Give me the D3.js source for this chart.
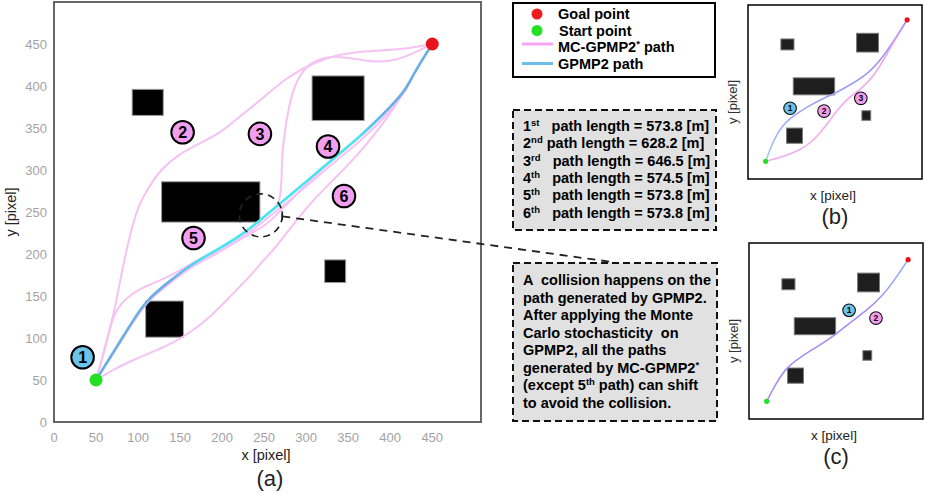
<!DOCTYPE html>
<html>
<head>
<meta charset="utf-8">
<script src="https://cdn.jsdelivr.net/npm/d3@7"></script>
<style>
  body { margin: 0; background: #fff; }
  text { font-family: Arial, "Liberation Sans", sans-serif; }
  .pre { white-space: pre; }
</style>
</head>
<body>
<svg id="fig" width="926" height="494"></svg>
<script>
(function() {
  /* Data */
  var xTicks = [0, 50, 100, 150, 200, 250, 300, 350, 400, 450];
  var yTicks = [0, 50, 100, 150, 200, 250, 300, 350, 400, 450];
  // obstacles: x, y (bottom), width, height in map pixels
  var obstacles = [[93, 365, 37, 31], [307, 359, 62, 53], [128, 238, 117, 48], [322, 166, 25, 27], [109, 101, 45, 43]];
  var startPt = [50, 50];
  var goalPt = [450, 450];
  var gpmp2Path = [[50,50],[75,90],[94,121],[110,145],[134,165],[162,187],[194,205],[221,221],[245,240],[269,260],
                   [293,280],[316,300],[340,320],[364,340],[385,360],[404,379],[420,398],[428,415],[450,450]];
  var mcPath2 = [[50,50],[60,85],[68,118],[73,138],[78,165],[88,214],[100,258],[112,278],[126,300],[150,320],[174,332],
                 [198,344],[221,364],[241,379],[277,411],[312,429],[336,437],[372,442],[412,443],[450,450]];
  var mcPath3 = [[50,50],[60,85],[68,118],[75,135],[86,148],[106,161],[134,171],[162,188],[194,205],[221,220],[245,240],
                 [262,253],[269,263],[271,290],[271,316],[275,350],[283,395],[297,421],[312,431],[336,437],[372,429],[406,428],[450,450]];
  var mcPath4 = [[50,50],[75,89],[95,120],[111,144],[136,164],[164,185],[196,203],[224,219],[248,238],[272,257],[296,277],
                 [319,297],[343,317],[367,337],[388,357],[406,378],[421,398],[428,415],[450,450]];
  var mcPath5 = [[50,50],[75,89],[94,120],[110,144],[134,164],[162,185],[194,200],[209,210],[233,224],[253,235],[265,247],
                 [280,262],[296,279],[317,299],[340,319],[364,339],[385,359],[404,379],[420,398],[428,415],[450,450]];
  var mcPath6 = [[50,50],[70,62],[94,74],[134,90],[162,106],[186,125],[209,149],[233,173],[253,197],[265,209],[285,236],
                 [308,264],[332,288],[356,312],[376,336],[392,356],[406,377],[420,398],[428,415],[450,450]];
  var mcPaths = [mcPath2, mcPath3, mcPath4, mcPath5, mcPath6];
  // circled path numbers in (a): label, x, y
  var mainLabels = [["1", 34, 77], ["2", 153, 345], ["3", 245, 343], ["4", 326, 328], ["5", 166, 219], ["6", 345, 269]];
  var collisionPt = [246, 246];

  var legendNames = ["Goal point", "Start point", "MC-GPMP2", "GPMP2 path"];
  var pathOrdinals = ["1", "2", "3", "4", "5", "6"];
  var ordinalSuffix = ["st", "nd", "rd", "th", "th", "th"];
  var ordinalGap = ["  ", "", "  ", "  ", "  ", "  "];
  var pathLengths = ["573.8", "628.2", "646.5", "574.5", "573.8", "573.8"];
  var noteLines = ["A  collision happens on the", "path generated by GPMP2.", "After applying the Monte",
                   "Carlo stochasticity  on", "GPMP2, all the paths", "generated by MC-GPMP2*",
                   "(except 5th path) can shift", "to avoid the collision."];

  var bPath1 = [[50,50],[72,110],[95,148],[119,172],[166,204],[213,228],[246,242],[288,266],[336,294],[383,346],[420,402],[450,450]];
  var bPath2 = [[50,50],[100,63],[147,82],[175,101],[204,129],[232,167],[260,204],[288,233],[317,252],[354,289],[383,336],[420,402],[450,450]];
  var bLabels = [["1", 119, 200, "blue"], ["2", 215, 192, "pink"], ["3", 319, 228, "pink"]];
  var cPath = [[50,50],[78,104],[107,146],[144,174],[191,203],[243,236],[286,273],[333,306],[380,350],[418,402],[450,450]];
  var cLabels = [["1", 283, 307, "blue"], ["2", 359, 285, "pink"]];

  /* colours */
  var pink = "#f6c2f3", pinkFill = "#f29ff0", blueFill = "#6cc3ea";
  var svg = d3.select("#fig");
  var defs = svg.append("defs");

  /* main panel (a) */
  var xMain = d3.scaleLinear().domain([0, 508]).range([54, 481]);
  var yMain = d3.scaleLinear().domain([0, 500]).range([422, 2]);
  var gA = svg.append("g");

  gA.append("rect").attr("x", 54).attr("y", 2).attr("width", 427).attr("height", 420)
    .attr("fill", "#fff").attr("stroke", "#666").attr("stroke-width", 2);

  gA.selectAll("text.xt").data(xTicks).enter().append("text").attr("class", "xt")
    .attr("x", function(d) { return xMain(d); }).attr("y", 442)
    .attr("text-anchor", "middle").attr("font-size", 13).attr("fill", "#a3a3a3")
    .text(function(d) { return d; });
  gA.selectAll("text.yt").data(yTicks).enter().append("text").attr("class", "yt")
    .attr("x", 47).attr("y", function(d) { return yMain(d); }).attr("dy", "0.36em")
    .attr("text-anchor", "end").attr("font-size", 13).attr("fill", "#a3a3a3")
    .text(function(d) { return d; });

  gA.append("text").attr("x", 266).attr("y", 460).attr("text-anchor", "middle")
    .attr("font-size", 14.5).attr("fill", "#222").text("x [pixel]");
  gA.append("text").attr("transform", "translate(16,212) rotate(-90)").attr("text-anchor", "middle")
    .attr("font-size", 14.5).attr("fill", "#222").text("y [pixel]");
  gA.append("text").attr("x", 270).attr("y", 486).attr("text-anchor", "middle")
    .attr("font-size", 22).attr("fill", "#222").text("(a)");

  function drawObstacles(g, xs, ys, fill, edge) {
    g.selectAll("rect.obs").data(obstacles).enter().append("rect").attr("class", "obs")
      .attr("x", function(d) { return xs(d[0]); })
      .attr("y", function(d) { return ys(d[1] + d[3]); })
      .attr("width", function(d) { return xs(d[0] + d[2]) - xs(d[0]); })
      .attr("height", function(d) { return ys(d[1]) - ys(d[1] + d[3]); })
      .attr("fill", fill).attr("stroke", edge).attr("stroke-width", 1);
  }
  drawObstacles(gA, xMain, yMain, "#000", "#9a9a9a");

  var lineA = d3.line().x(function(d) { return xMain(d[0]); }).y(function(d) { return yMain(d[1]); })
                .curve(d3.curveBasis);

  gA.selectAll("path.mc").data(mcPaths).enter().append("path").attr("class", "mc")
    .attr("d", lineA).attr("fill", "none").attr("stroke", pink).attr("stroke-width", 2);

  var gradA = defs.append("linearGradient").attr("id", "gpmpGrad").attr("gradientUnits", "userSpaceOnUse")
    .attr("x1", xMain(50)).attr("x2", xMain(450)).attr("y1", 0).attr("y2", 0);
  [[0, "#6aaee6"], [0.22, "#6aaee6"], [0.32, "#45e6ef"], [0.78, "#45e6ef"], [0.86, "#6aaee6"], [1, "#6aaee6"]]
    .forEach(function(s) { gradA.append("stop").attr("offset", s[0]).attr("stop-color", s[1]); });
  gA.append("path").datum(gpmp2Path).attr("d", lineA).attr("fill", "none")
    .attr("stroke", "url(#gpmpGrad)").attr("stroke-width", 2.6);

  // collision marker
  var cx = xMain(collisionPt[0]), cy = yMain(collisionPt[1]);
  gA.append("circle").attr("cx", cx).attr("cy", cy).attr("r", 21.5).attr("fill", "none")
    .attr("stroke", "#222").attr("stroke-width", 1.6).attr("stroke-dasharray", "7,5");
  gA.append("line").attr("x1", cx + 21.5).attr("y1", cy + 1).attr("x2", 612).attr("y2", 262)
    .attr("stroke", "#222").attr("stroke-width", 1.8).attr("stroke-dasharray", "8,6");
  gA.append("line").attr("x1", cx + 21.5).attr("y1", cy - 4).attr("x2", cx + 21.5).attr("y2", cy + 5)
    .attr("stroke", "#222").attr("stroke-width", 1.6);

  gA.append("circle").attr("cx", xMain(goalPt[0])).attr("cy", yMain(goalPt[1])).attr("r", 6.5).attr("fill", "#e8141c");
  gA.append("circle").attr("cx", xMain(startPt[0])).attr("cy", yMain(startPt[1])).attr("r", 6.5).attr("fill", "#22e022");

  var lbA = gA.selectAll("g.lbl").data(mainLabels).enter().append("g").attr("class", "lbl")
    .attr("transform", function(d) { return "translate(" + xMain(d[1]) + "," + yMain(d[2]) + ")"; });
  lbA.append("circle").attr("r", 11.3).attr("stroke", "#000").attr("stroke-width", 2)
    .attr("fill", function(d, i) { return i === 0 ? blueFill : pinkFill; });
  lbA.append("text").attr("text-anchor", "middle").attr("dy", "0.36em").attr("font-size", 16)
    .attr("font-weight", "bold").attr("fill", "#000").text(function(d) { return d[0]; });

  /* legend */
  var gL = svg.append("g");
  gL.append("rect").attr("x", 513).attr("y", 3).attr("width", 202).attr("height", 74)
    .attr("fill", "#fff").attr("stroke", "#000").attr("stroke-width", 2);
  gL.append("circle").attr("cx", 537).attr("cy", 14).attr("r", 5.5).attr("fill", "#ee1c1c");
  gL.append("circle").attr("cx", 537).attr("cy", 30.5).attr("r", 5.5).attr("fill", "#22e022");
  gL.append("line").attr("x1", 522).attr("x2", 553).attr("y1", 44).attr("y2", 44)
    .attr("stroke", "#f4a6f2").attr("stroke-width", 3);
  gL.append("line").attr("x1", 522).attr("x2", 553).attr("y1", 63.5).attr("y2", 63.5)
    .attr("stroke", "#6cbde8").attr("stroke-width", 3);
  var legY = [19, 35.5, 52, 69];
  var legX = [558, 559, 558, 558];
  legendNames.forEach(function(n, i) {
    var t = gL.append("text").attr("x", legX[i]).attr("y", legY[i]).attr("font-size", 14.5)
      .attr("font-weight", "bold").attr("fill", "#000");
    t.append("tspan").text(n);
    if (i === 2) {
      t.append("tspan").attr("dy", -5).attr("font-size", 9.5).text("*");
      t.append("tspan").attr("dy", 5).text(" path");
    }
  });

  /* path length box */
  var gP = svg.append("g");
  gP.append("rect").attr("x", 513).attr("y", 110).attr("width", 203).attr("height", 120)
    .attr("fill", "#e1e1e1").attr("stroke", "#111").attr("stroke-width", 2).attr("stroke-dasharray", "7,4");
  pathOrdinals.forEach(function(o, i) {
    var t = gP.append("text").attr("class", "pre").attr("x", 523).attr("y", 131 + i * 17.33)
      .attr("font-size", 14.5).attr("font-weight", "bold").attr("fill", "#000");
    t.append("tspan").text(o);
    t.append("tspan").attr("dy", -5).attr("font-size", 9.5).text(ordinalSuffix[i]);
    t.append("tspan").attr("dy", 5).text(ordinalGap[i] + " path length = " + pathLengths[i] + " [m]");
  });

  /* note box */
  var gN = svg.append("g");
  gN.append("rect").attr("x", 513).attr("y", 263).attr("width", 204).attr("height", 158)
    .attr("fill", "#e1e1e1").attr("stroke", "#111").attr("stroke-width", 2).attr("stroke-dasharray", "7,4");
  noteLines.forEach(function(s, i) {
    var t = gN.append("text").attr("class", "pre").attr("x", 523).attr("y", 285 + i * 17.5)
      .attr("font-size", 14.5).attr("font-weight", "bold").attr("fill", "#000");
    if (s.indexOf("5th") >= 0) {
      t.append("tspan").text("(except 5");
      t.append("tspan").attr("dy", -5).attr("font-size", 9.5).text("th");
      t.append("tspan").attr("dy", 5).text(" path) can shift");
    } else if (s.slice(-1) === "*") {
      t.append("tspan").text(s.slice(0, -1));
      t.append("tspan").attr("dy", -5).attr("font-size", 9.5).text("*");
    } else {
      t.text(s);
    }
  });

  /* small panels (b) and (c) */
  function smallPanel(box, yMax, paths, grads, labels, name) {
    var xs = d3.scaleLinear().domain([0, 492]).range([box[0], box[0] + box[2]]);
    var ys = d3.scaleLinear().domain([0, yMax]).range([box[1] + box[3], box[1]]);
    var g = svg.append("g");
    g.append("rect").attr("x", box[0]).attr("y", box[1]).attr("width", box[2]).attr("height", box[3])
      .attr("fill", "#fff").attr("stroke", "#000").attr("stroke-width", 1.5);
    drawObstacles(g, xs, ys, "#1e1e1e", "#7a7a7a");
    var ln = d3.line().x(function(d) { return xs(d[0]); }).y(function(d) { return ys(d[1]); })
               .curve(d3.curveBasis);
    paths.forEach(function(p, i) {
      var gid = name + "grad" + i;
      var gr = defs.append("linearGradient").attr("id", gid).attr("gradientUnits", "userSpaceOnUse")
        .attr("x1", xs(50)).attr("x2", xs(450)).attr("y1", ys(50)).attr("y2", ys(450));
      grads[i].forEach(function(s) { gr.append("stop").attr("offset", s[0]).attr("stop-color", s[1]); });
      g.append("path").datum(p).attr("d", ln).attr("fill", "none")
        .attr("stroke", "url(#" + gid + ")").attr("stroke-width", 1.6);
    });
    g.append("circle").attr("cx", xs(goalPt[0])).attr("cy", ys(goalPt[1])).attr("r", 2.6).attr("fill", "#e8141c");
    g.append("circle").attr("cx", xs(startPt[0])).attr("cy", ys(startPt[1])).attr("r", 2.6).attr("fill", "#22e022");
    var lb = g.selectAll("g.sl").data(labels).enter().append("g").attr("class", "sl")
      .attr("transform", function(d) { return "translate(" + xs(d[1]) + "," + ys(d[2]) + ")"; });
    lb.append("circle").attr("r", 6.3).attr("stroke", "#111").attr("stroke-width", 1.1)
      .attr("fill", function(d) { return d[3] === "blue" ? blueFill : pinkFill; });
    lb.append("text").attr("text-anchor", "middle").attr("dy", "0.36em").attr("font-size", 8.5)
      .attr("font-weight", "bold").attr("fill", "#000").text(function(d) { return d[0]; });
    var mid = box[0] + box[2] / 2;
    g.append("text").attr("x", mid - 2).attr("y", box[1] + box[3] + 21).attr("text-anchor", "middle")
      .attr("font-size", 13.5).attr("fill", "#222").text("x [pixel]");
    g.append("text").attr("x", mid).attr("y", box[1] + box[3] + 45).attr("text-anchor", "middle")
      .attr("font-size", 22).attr("fill", "#222").text("(" + name + ")");
    g.append("text").attr("transform", "translate(" + (box[0] - 11) + "," + (box[1] + box[3] / 2 + 10) + ") rotate(-90)")
      .attr("text-anchor", "middle").attr("font-size", 13).attr("fill", "#333").text("y [pixel]");
  }

  smallPanel([748, 5, 174, 174], 492, [bPath1, bPath2],
    [[[0, "#9fd2f0"], [0.25, "#a0a6f2"], [1, "#9c8ff0"]], [[0, "#f4b0f0"], [0.85, "#f0a2ef"], [1, "#a892f0"]]],
    bLabels, "b");
  smallPanel([749, 243, 174, 176], 497, [cPath],
    [[[0, "#a88cf0"], [0.7, "#a48ef0"], [1, "#94b6f0"]]],
    cLabels, "c");
})();
</script>
</body>
</html>
